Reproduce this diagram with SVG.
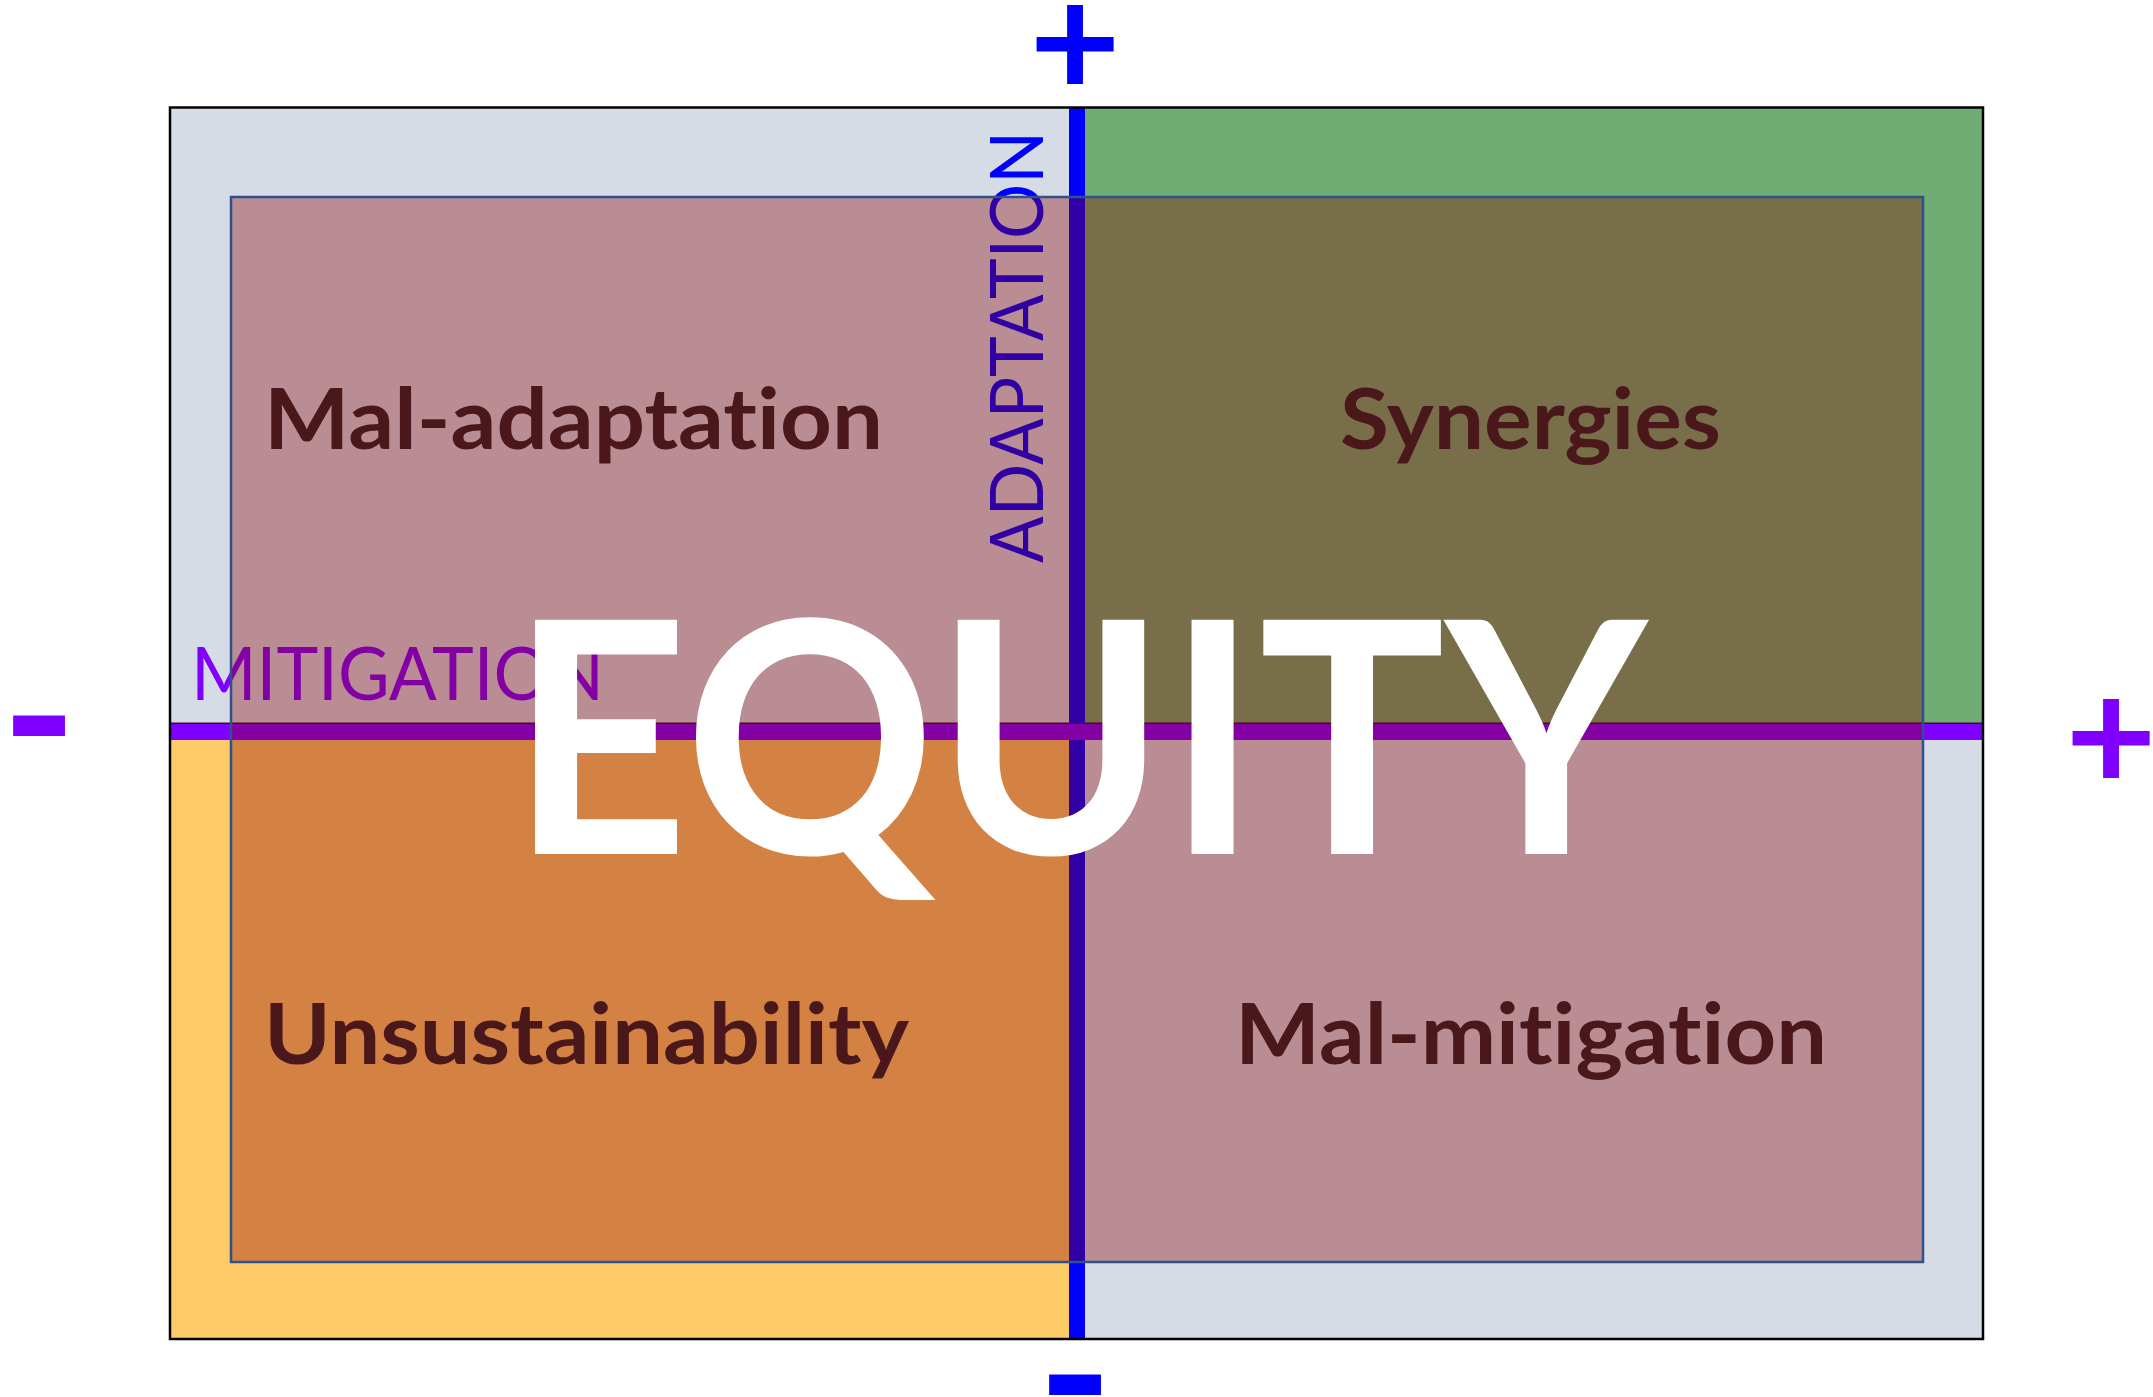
<svg xmlns="http://www.w3.org/2000/svg" width="2153" height="1397" viewBox="0 0 2153 1397">
<style>
text{font-variant-ligatures:none;font-feature-settings:"liga" 0,"dlig" 0;}
.q{font-family:Lato,"Liberation Sans",sans-serif;font-weight:700;font-size:85px;fill:#4A171A;}
.ax{font-family:Lato,"Liberation Sans",sans-serif;font-weight:400;font-size:74px;}
.eq{font-family:Lato,"Liberation Sans",sans-serif;font-weight:700;font-size:324px;fill:#FFFFFF;}
.sign{font-family:Lato,"Liberation Sans",sans-serif;font-weight:700;text-anchor:middle;}
</style>
<rect width="2153" height="1397" fill="#FFFFFF"/>
<g id="quadrants">
<rect x="170" y="107" width="907" height="625" fill="#D6DCE5"/>
<rect x="1077" y="107" width="906" height="625" fill="#70AD74"/>
<rect x="170" y="732" width="907" height="607" fill="#FFCA68"/>
<rect x="1077" y="732" width="906" height="607" fill="#D6DCE5"/>
<line x1="170" y1="723.5" x2="1983" y2="723.5" stroke="#3A1020" stroke-width="2"/>
</g>
<g id="connectors">
<rect id="axis-adaptation" x="1069" y="107" width="16" height="1232" fill="#0000FF"/>
<rect id="axis-mitigation" x="170" y="724" width="1813" height="16" fill="#8000FF"/>
</g>
<g id="axis-labels">
<text class="ax" fill="#0000FF" transform="translate(1043,563) rotate(-90)" textLength="432" lengthAdjust="spacingAndGlyphs">ADAPTATION</text>
<text class="ax" fill="#8000FF" x="191" y="700" textLength="413" lengthAdjust="spacingAndGlyphs">MITIGATION</text>
</g>
<rect id="frame" x="170" y="107.5" width="1813" height="1231.5" fill="none" stroke="#000000" stroke-width="2.5"/>
<g id="equity-overlay">
<rect x="231" y="197" width="1692" height="1065" fill="#870000" fill-opacity="0.355" stroke="#2F528F" stroke-width="2.5"/>
</g>
<g id="node-maladaptation"><text class="q" x="264" y="449" textLength="619" lengthAdjust="spacingAndGlyphs">Mal-adaptation</text></g>
<g id="node-synergies"><text class="q" x="1340" y="449" textLength="381" lengthAdjust="spacingAndGlyphs">Synergies</text></g>
<g id="node-unsustainability"><text class="q" x="264" y="1064" textLength="645" lengthAdjust="spacingAndGlyphs">Unsustainability</text></g>
<g id="node-malmitigation"><text class="q" x="1235" y="1064" textLength="592" lengthAdjust="spacingAndGlyphs">Mal-mitigation</text></g>
<g id="node-equity"><text class="eq" x="510" y="854" textLength="1137" lengthAdjust="spacingAndGlyphs">EQUITY</text></g>
<g id="signs">
<text class="sign" x="1075" y="97" font-size="158" fill="#0000FF">+</text>
<text class="sign" x="2111" y="791" font-size="158" fill="#8000FF">+</text>
<text class="sign" x="39" y="786" font-size="200" fill="#8000FF">-</text>
<text class="sign" x="1075" y="1445" font-size="200" fill="#0000FF">-</text>
</g>
</svg>
